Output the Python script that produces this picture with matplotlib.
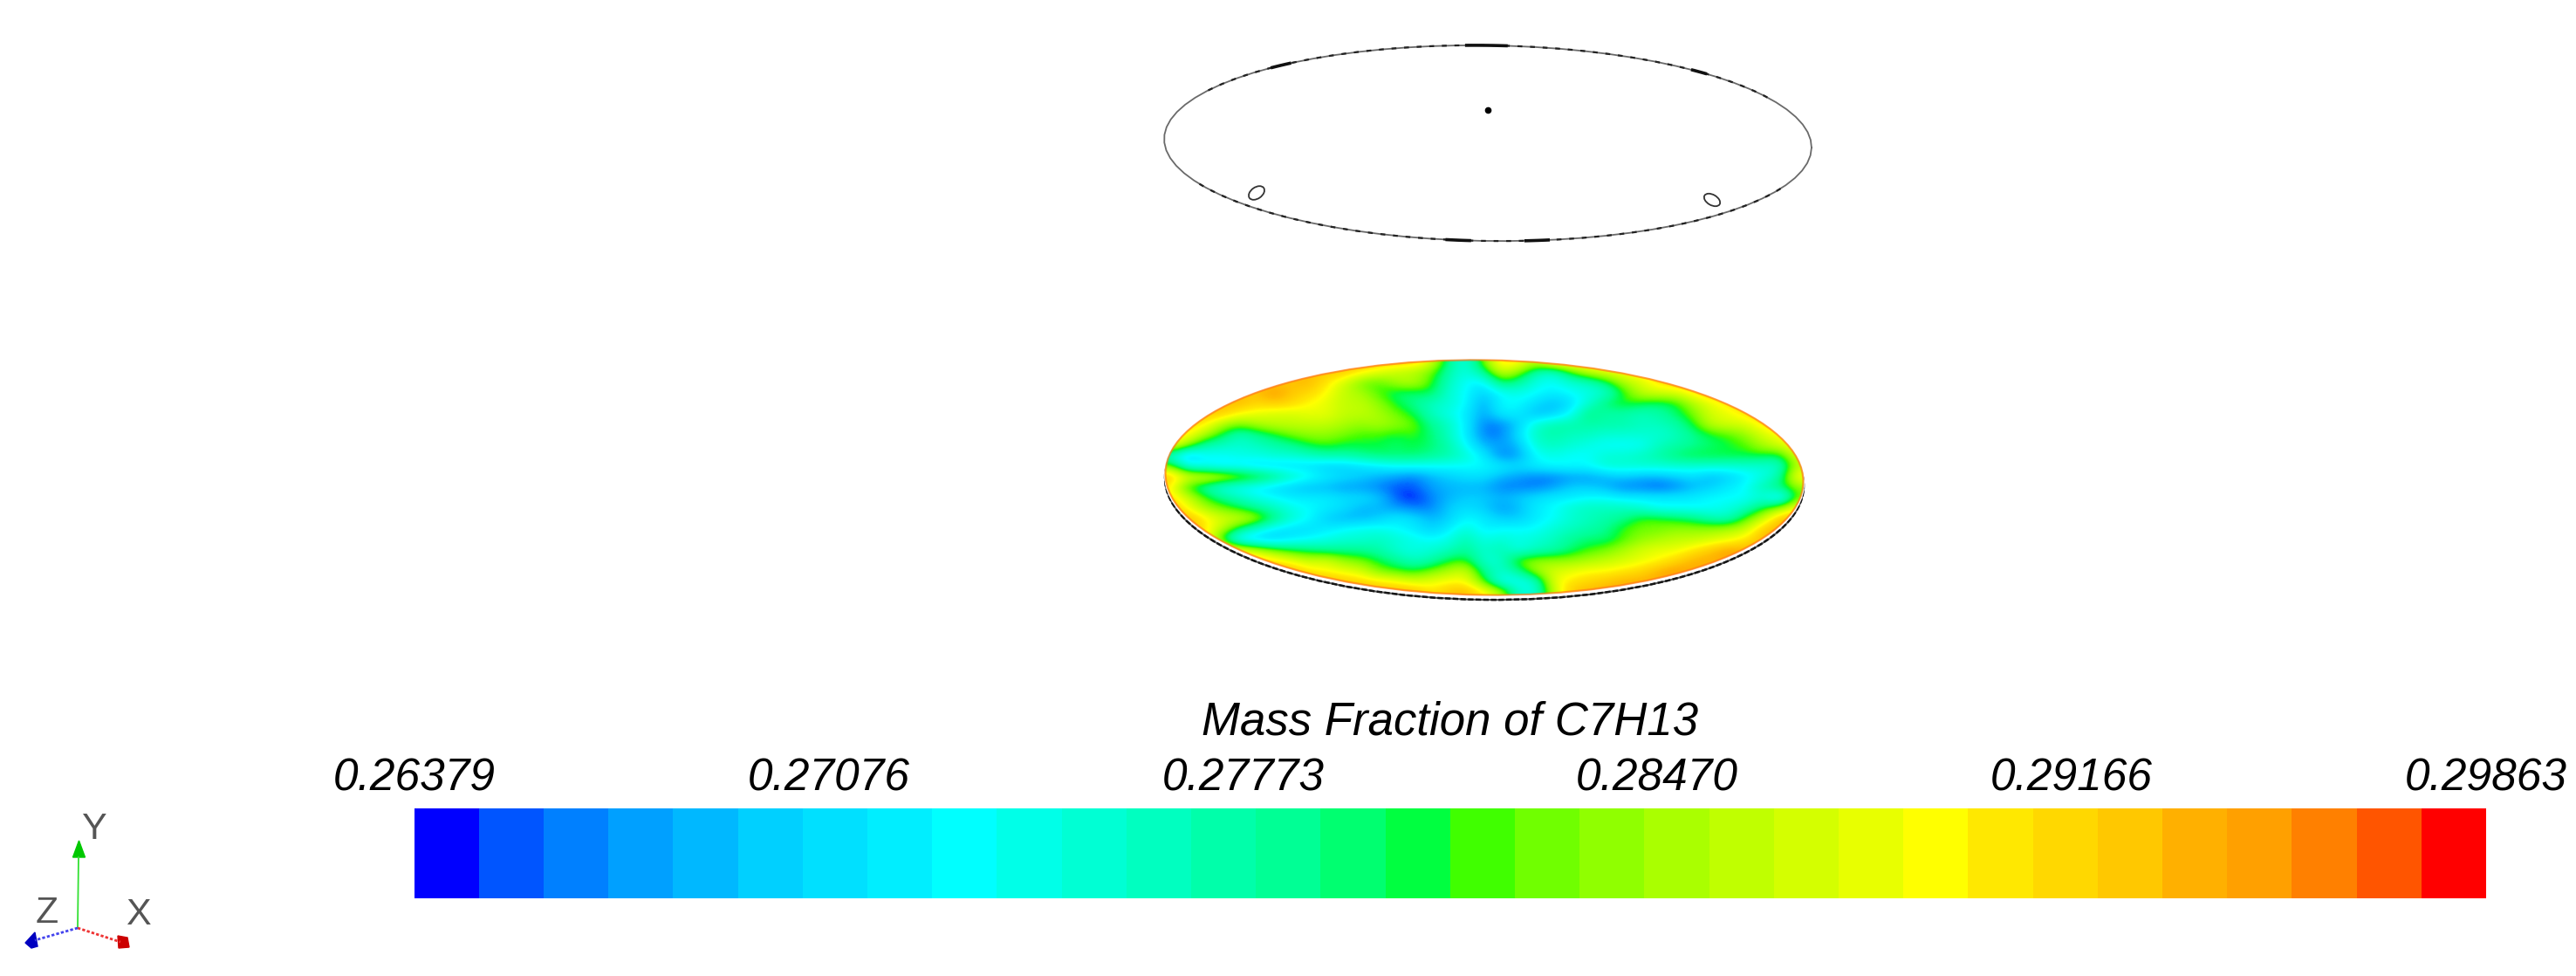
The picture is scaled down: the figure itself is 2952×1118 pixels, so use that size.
import numpy as np
import matplotlib
matplotlib.use('Agg')
import matplotlib.pyplot as plt
from matplotlib.colors import ListedColormap, LinearSegmentedColormap
from matplotlib.patches import Ellipse

W, H = 2952, 1118

band_colors = ['#0000ff', '#0055ff', '#0080ff', '#00a0ff', '#00b8ff', '#00d0ff', '#00e0ff', '#00eeff',
               '#00ffff', '#00ffe8', '#00ffd4', '#00ffc0', '#00ffaa', '#00ff95', '#00ff70', '#00ff40',
               '#40ff00', '#70ff00', '#90ff00', '#aaff00', '#c0ff00', '#d4ff00', '#e8ff00', '#ffff00',
               '#ffe800', '#ffd800', '#ffc800', '#ffb000', '#ffa000', '#ff8000', '#ff5500', '#ff0000']
tick_values = [0.26379, 0.27076, 0.27773, 0.28470, 0.29166, 0.29863]
bar_title = 'Mass Fraction of C7H13'

field_band = [
    [26]*15 + [22, 13, 9, 17, 25, 24, 20] + [26]*15,
    [26]*11 + [24, 22, 20, 19, 17, 12, 9, 13, 21, 18, 12, 10, 16, 20, 22, 23, 25] + [26]*9,
    [26]*8 + [27, 24, 21, 17, 16, 19, 20, 16, 11, 8, 7, 15, 13, 9, 8, 10, 11, 14, 19, 21, 24] + [26]*8,
    [26]*6 + [28, 26, 25, 23, 20, 19, 16, 14, 14, 15, 10, 8, 5, 8, 9, 8, 7, 8, 9, 10, 15, 20, 21, 21, 24] + [26]*6,
    [26]*4 + [27, 25, 26, 25, 23, 22, 20, 20, 18, 15, 13, 11, 10, 8, 3, 8, 8, 6, 4, 6, 10, 14, 16, 15, 14, 15, 19, 22, 24] + [26]*4,
    [26]*3 + [26, 23, 22, 21, 21, 22, 22, 20, 20, 19, 17, 15, 11, 9, 7, 3, 7, 7, 4, 5, 8, 14, 12, 12, 11, 12, 14, 17, 21, 22, 24] + [26]*3,
    [25, 25, 24, 19, 17, 19, 20, 20, 20, 20, 19, 18, 19, 18, 17, 13, 11, 7, 2, 2, 5, 10, 12, 12, 12, 12, 12, 11, 11, 12, 15, 20, 21, 21, 24, 26, 26],
    [25, 24, 19, 15, 11, 13, 15, 17, 18, 18, 17, 16, 16, 15, 16, 14, 11, 7, 2, 2, 6, 11, 12, 11, 11, 10, 10, 10, 10, 11, 13, 15, 16, 18, 21, 23, 26],
    [24, 18, 12, 11, 10, 11, 12, 13, 15, 16, 15, 15, 15, 14, 15, 14, 12, 8, 4, 3, 4, 10, 11, 10, 9, 8, 8, 8, 11, 12, 13, 14, 15, 16, 19, 21, 24],
    [10, 4, 8, 8, 9, 9, 10, 10, 11, 12, 12, 13, 14, 14, 14, 13, 12, 10, 7, 2, 3, 8, 9, 8, 8, 10, 10, 11, 12, 14, 15, 15, 15, 15, 15, 14, 22],
    [18, 9, 8, 7, 7, 6, 6, 6, 6, 5, 5, 6, 7, 8, 8, 8, 8, 8, 8, 7, 6, 7, 8, 8, 8, 10, 10, 10, 10, 10, 10, 10, 10, 10, 10, 10, 20],
    [27, 22, 22, 21, 19, 17, 14, 11, 9, 7, 6, 5, 4, 3, 2, 4, 5, 6, 6, 4, 3, 2, 2, 3, 3, 4, 5, 4, 4, 5, 6, 4, 5, 7, 9, 12, 24],
    [24, 15, 12, 9, 8, 7, 6, 5, 4, 4, 3, 3, 2, 1, 1, 3, 4, 4, 4, 2, 2, 2, 3, 5, 5, 4, 2, 2, 1, 2, 4, 5, 7, 8, 12, 14, 18],
    [25, 21, 16, 13, 11, 9, 8, 7, 7, 7, 6, 6, 5, 1, 0, 2, 4, 5, 5, 4, 5, 6, 7, 7, 8, 8, 7, 7, 7, 7, 7, 8, 8, 8, 10, 5, 17],
    [27, 23, 19, 17, 15, 13, 11, 9, 8, 7, 6, 4, 4, 3, 2, 2, 5, 6, 5, 3, 4, 7, 8, 10, 11, 11, 11, 10, 8, 8, 8, 8, 9, 11, 15, 18, 24],
    [27, 27, 24, 21, 21, 19, 14, 10, 8, 5, 4, 4, 5, 7, 6, 4, 5, 8, 7, 5, 5, 7, 8, 10, 11, 12, 13, 16, 16, 15, 14, 12, 11, 16, 20, 27, 27],
    [27, 27, 24, 20, 14, 10, 7, 6, 6, 7, 8, 9, 9, 8, 7, 5, 7, 10, 7, 8, 8, 8, 10, 11, 12, 13, 16, 17, 17, 18, 18, 18, 19, 20, 26, 27, 27],
    [26, 26, 26, 14, 6, 5, 5, 7, 8, 9, 10, 10, 11, 10, 9, 8, 9, 12, 9, 10, 9, 10, 11, 13, 14, 14, 16, 18, 19, 20, 20, 21, 22, 24, 27, 27, 27],
    [27, 27, 27, 27, 23, 20, 17, 15, 14, 13, 13, 13, 12, 10, 9, 10, 11, 13, 10, 12, 9, 11, 12, 14, 16, 17, 19, 21, 22, 22, 24, 26, 28, 27, 27, 27, 27],
    [27]*5 + [26, 24, 22, 20, 21, 18, 17, 15, 13, 11, 12, 15, 16, 10, 10, 17, 18, 18, 18, 19, 20, 21, 22, 23, 25] + [27]*7,
    [27]*8 + [24, 23, 22, 21, 17, 16, 15, 17, 19, 21, 13, 10, 13, 19, 21, 22, 23, 23, 24, 25, 27, 28] + [27]*7,
    [27]*10 + [26, 25, 24, 23, 21, 22, 23, 23, 16, 8, 8, 10, 22, 24, 25, 26] + [27]*11,
    [27]*15 + [24, 26, 27, 24, 20, 10, 9, 20, 26] + [27]*13,
]


def draw_disc(ax):
    n = len(band_colors)
    span = tick_values[-1] - tick_values[0]
    field = tick_values[0] + (np.array(field_band) + 0.5) / n * span
    cmap = LinearSegmentedColormap.from_list('cfd', band_colors)
    # dark under-rim first, then a white gap and the coloured face
    ax.add_patch(Ellipse((1701, 552), 732, 270, angle=0.8, fc='white', ec='#555555', lw=1.5, zorder=1))
    ax.add_patch(Ellipse((1701, 552), 732, 270, angle=0.8, fc='none', ec='#161616', lw=1.8, ls=(0, (2.5, 1)), zorder=1))
    ax.add_patch(Ellipse((1701, 549), 734, 270, angle=0.8, fc='white', ec='none', zorder=2))
    face = Ellipse((1701, 547), 732, 270, angle=0.8, fc='none', ec='none')
    ax.add_patch(face)
    im = ax.imshow(field, extent=(1330, 2070, 684, 408), cmap=cmap,
                   vmin=tick_values[0] + 0.5 / n * span, vmax=tick_values[-1] - 0.5 / n * span,
                   interpolation='bicubic', aspect='auto', zorder=3)
    im.set_clip_path(face)
    ax.add_patch(Ellipse((1701, 547), 731, 269, angle=0.8, fc='none', ec='#ff7a20', lw=1.6, alpha=0.7, zorder=4))


def ring_arc(ax, t1, t2, **kw):
    # part of the upper ring, t in degrees round the ellipse (y axis points down)
    t = np.radians(np.linspace(t1, t2, 80))
    tilt = np.radians(0.8)
    x = 371 * np.cos(t)
    y = 112 * np.sin(t)
    ax.plot(1705 + x * np.cos(tilt) - y * np.sin(tilt), 164 + x * np.sin(tilt) + y * np.cos(tilt), **kw)


def draw_ring(ax):
    ring_arc(ax, 0, 360, color='#6a6a6a', lw=1.3)
    ring_arc(ax, -150, -30, color='#222222', lw=1.6, ls=(0, (2.5, 4)))
    ring_arc(ax, 25, 155, color='#222222', lw=1.6, ls=(0, (2.5, 4)))
    for start, end in [(-132, -128), (-51, -48), (-94, -87), (93, 97), (79, 83)]:
        ring_arc(ax, start, end, color='#111111', lw=2.6)
    ax.plot([1705], [126], 'o', color='black', ms=4.5)
    ax.add_patch(Ellipse((1440, 221), 20, 13, angle=-35, fc='none', ec='#333333', lw=1.3))
    ax.add_patch(Ellipse((1962, 229), 20, 12, angle=30, fc='none', ec='#333333', lw=1.3))


def draw_triad(ax):
    ox, oy = 89, 1063
    ax.plot([ox, 90], [oy, 982], color='#33e033', lw=1.3)
    ax.fill([83.5, 97.5, 90.5], [982, 982, 963], color='#00c800')
    ax.plot([ox, 138], [oy, 1079], color='#ee3333', lw=2, ls=(0, (1.2, 0.8)))
    ax.fill([135, 146, 148, 136], [1072, 1074, 1085, 1086], color='#cc0000')
    ax.plot([ox, 40], [oy, 1077], color='#4444ee', lw=2, ls=(0, (1.2, 0.8)))
    ax.fill([29, 40, 43, 36], [1080, 1068, 1084, 1086], color='#0000c0')
    for s, x, y in [('Y', 108, 950), ('Z', 54, 1046), ('X', 158, 1048)]:
        ax.text(x, y, s, fontsize=31, color='#555555', ha='center', va='center')


def draw_bar(fig):
    ax = fig.add_axes([474.5 / W, 1 - 1029 / H, 2374.5 / W, 103 / H])
    edges = np.linspace(tick_values[0], tick_values[-1], len(band_colors) + 1)
    ax.pcolormesh(edges, [0, 1], [np.arange(len(band_colors))], cmap=ListedColormap(band_colors))
    ax.set_yticks([])
    ax.set_xticks(np.linspace(tick_values[0], tick_values[-1], len(tick_values)))
    ax.set_xticklabels(['%.5f' % v for v in tick_values], fontsize=37, style='italic')
    ax.tick_params(axis='x', top=True, labeltop=True, bottom=False, labelbottom=False, length=0, pad=7)
    for i in ax.spines:
        ax.spines[i].set_visible(False)
    ax.set_title(bar_title, fontsize=38, style='italic', y=1.82, pad=0)


def main():
    plt.rcParams['font.family'] = ['Liberation Sans', 'DejaVu Sans']
    fig = plt.figure(figsize=(W / 100, H / 100), dpi=100)
    ax = fig.add_axes([0, 0, 1, 1])
    draw_disc(ax)
    draw_ring(ax)
    draw_triad(ax)
    ax.set_xlim(0, W)
    ax.set_ylim(H, 0)
    ax.axis('off')
    draw_bar(fig)
    fig.savefig('out.png', dpi=100)
    plt.close()


if __name__ == '__main__':
    main()
